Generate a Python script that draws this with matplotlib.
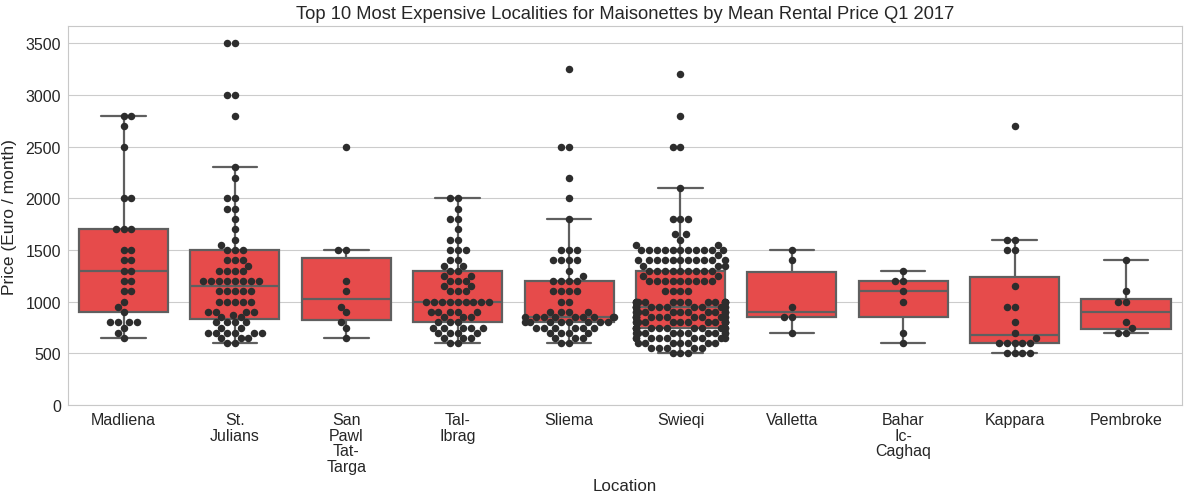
"""Box + swarm plot of maisonette rental prices for the ten priciest localities."""

import numpy as np
import pandas as pd
import matplotlib
matplotlib.use('Agg')
import matplotlib.pyplot as plt
import seaborn as sns


locations = ['Madliena', 'St. Julians', 'San Pawl Tat-Targa', 'Tal-Ibrag', 'Sliema',
             'Swieqi', 'Valletta', 'Bahar Ic-Caghaq', 'Kappara', 'Pembroke']

madliena_prices = [2800, 2700, 2500, 2000, 1700, 1500, 1400, 1300, 1200, 1100, 1000, 950, 900, 800, 750, 700, 650]
madliena_counts = [2, 1, 1, 2, 3, 2, 2, 2, 2, 2, 1, 1, 1, 4, 1, 1, 1]

julians_prices = [3500, 3000, 2800, 2300, 2200, 2000, 1900, 1800, 1700, 1600, 1550, 1500, 1400, 1350,
                  1300, 1200, 1100, 1000, 900, 875, 850, 800, 750, 700, 650, 600]
julians_counts = [2, 2, 1, 1, 1, 2, 2, 1, 1, 1, 1, 3, 3, 1,
                  4, 8, 5, 5, 4, 1, 2, 4, 2, 6, 3, 2]

san_pawl_prices = [2500, 1500, 1200, 1100, 950, 900, 800, 750, 650]
san_pawl_counts = [1, 2, 1, 1, 1, 1, 1, 1, 1]

ibrag_prices = [2000, 1900, 1800, 1700, 1600, 1500, 1400, 1350, 1300, 1250, 1200, 1150, 1100,
                1000, 900, 850, 800, 750, 700, 650, 600]
ibrag_counts = [2, 1, 2, 1, 2, 3, 2, 2, 2, 2, 3, 2, 3,
                9, 5, 3, 3, 5, 4, 3, 2]

sliema_prices = [3250, 2500, 2200, 2000, 1800, 1500, 1400, 1300, 1250, 1200, 1100, 1000,
                 900, 850, 800, 750, 700, 650, 600]
sliema_counts = [1, 2, 1, 1, 1, 3, 4, 1, 1, 4, 4, 2,
                 4, 9, 8, 6, 4, 3, 2]

swieqi_prices = [3200, 2800, 2500, 2100, 1800, 1650, 1600, 1550, 1500, 1450, 1400, 1350, 1300, 1250,
                 1200, 1100, 1000, 950, 900, 850, 800, 750, 700, 650, 600, 550, 500]
swieqi_counts = [1, 1, 2, 1, 3, 2, 1, 2, 11, 1, 11, 3, 9, 2,
                 9, 4, 14, 12, 12, 12, 13, 12, 10, 9, 7, 5, 3]

valletta_prices = [1500, 1400, 950, 850, 700]
valletta_counts = [1, 1, 1, 2, 1]

bahar_prices = [1300, 1200, 1100, 1000, 700, 600]
bahar_counts = [1, 2, 1, 1, 1, 1]

kappara_prices = [2700, 1600, 1500, 1150, 950, 800, 700, 650, 600, 500]
kappara_counts = [1, 2, 2, 1, 2, 1, 1, 1, 5, 4]

pembroke_prices = [1400, 1100, 1000, 800, 750, 700]
pembroke_counts = [1, 1, 2, 1, 1, 2]


def to_frame():
    groups = [
        (madliena_prices, madliena_counts), (julians_prices, julians_counts),
        (san_pawl_prices, san_pawl_counts), (ibrag_prices, ibrag_counts),
        (sliema_prices, sliema_counts), (swieqi_prices, swieqi_counts),
        (valletta_prices, valletta_counts), (bahar_prices, bahar_counts),
        (kappara_prices, kappara_counts), (pembroke_prices, pembroke_counts)]
    frames = []
    for loc, (prices, counts) in zip(locations, groups):
        vals = np.repeat(prices, counts)
        frames.append(pd.DataFrame({'Location': loc, 'Price': vals}))
    return pd.concat(frames, ignore_index=True)


def wrap(name):
    # break on spaces and after hyphens, like the original tick labels
    return name.replace('-', '-\n').replace(' ', '\n')


sns.set_style('whitegrid')
plt.rcParams['font.family'] = ['Liberation Sans', 'DejaVu Sans']
plt.rcParams['axes.edgecolor'] = '#c8c8c8'
plt.rcParams['grid.color'] = '#cccccc'

df = to_frame()

fig = plt.figure(figsize=(11.9, 5.02), dpi=100)
ax = fig.add_axes([0.057, 0.191, 0.936, 0.755])

sns.boxplot(data=df, x='Location', y='Price', order=locations, color='#e64b4b',
            saturation=1, showfliers=False, width=0.8, linewidth=1.6,
            linecolor='#5f5f5f', ax=ax)
sns.swarmplot(data=df, x='Location', y='Price', order=locations, color='#2d2d2d',
              size=5.4, ax=ax, warn_thresh=1)

ax.set_ylim(0, 3665)
ax.set_xlim(-0.5, 9.5)
ax.set_yticks(np.arange(0, 3501, 500))
ax.set_xticks(range(len(locations)))
ax.set_xticklabels([wrap(l) for l in locations], fontsize=11.5, color='#262626',
                   linespacing=1.05)
ax.tick_params(axis='y', labelsize=11.5, labelcolor='#262626')
ax.tick_params(length=0, pad=5)
ax.set_xlabel('Location', fontsize=12.2, color='#262626', labelpad=3)
ax.set_ylabel('Price (Euro / month)', fontsize=12.5, color='#262626', labelpad=6)
ax.set_title('Top 10 Most Expensive Localities for Maisonettes by Mean Rental Price Q1 2017',
             fontsize=13.2, color='#262626', pad=6)
ax.grid(axis='x', visible=False)

fig.savefig('out.png', dpi=100)
